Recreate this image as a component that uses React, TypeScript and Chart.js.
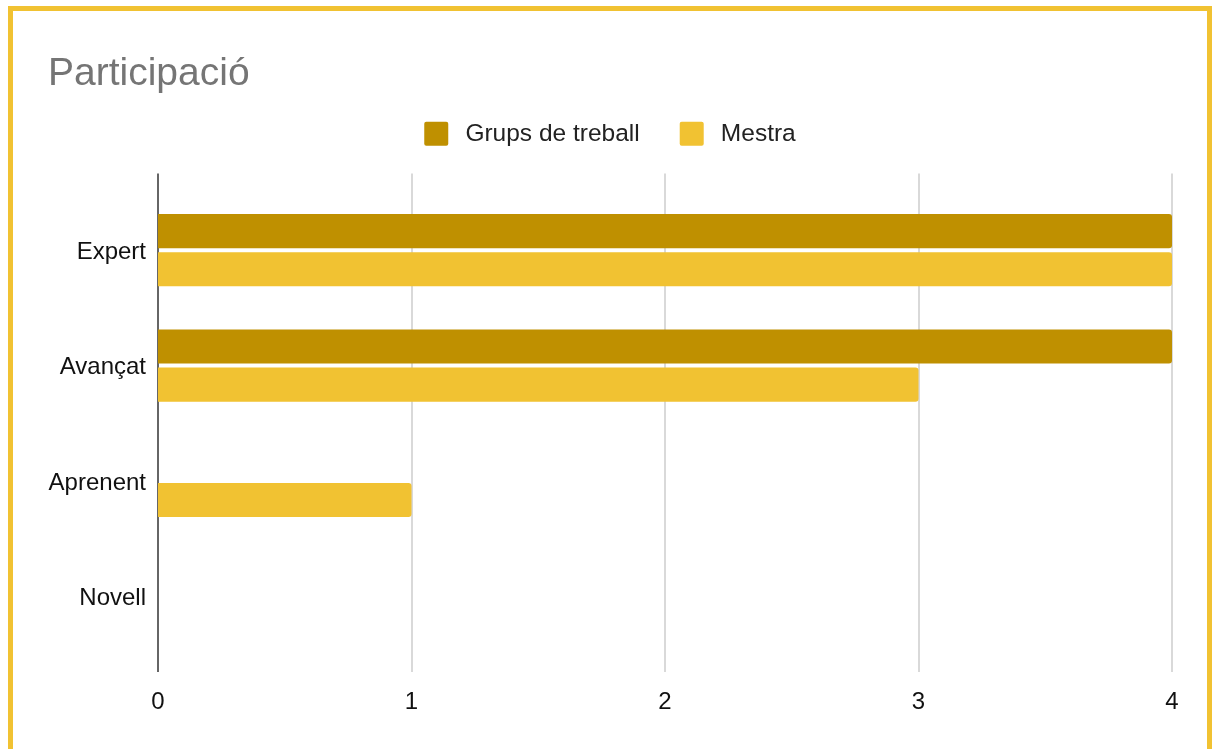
import React, { useEffect, useRef } from "react";
import { Chart, registerables } from "chart.js";
Chart.register(...registerables);

const titleText = "Participació";
const categories = ["Expert", "Avançat", "Aprenent", "Novell"];
const seriesNames = ["Grups de treball", "Mestra"];
const grupsValues = [4, 4, 0, 0];
const mestraValues = [4, 3, 1, 0];
const xTickValues = [0, 1, 2, 3, 4];
const seriesColors = ["#bf9000", "#f1c232"];

const FONT = "Arial, 'Liberation Sans', sans-serif";

const extGridPlugin = {
  id: "extGrid",
  beforeDatasetsDraw(chart: any) {
    const { ctx, chartArea, scales } = chart;
    const xs = scales.x;
    ctx.save();
    xTickValues.forEach((v) => {
      const px = Math.round(xs.getPixelForValue(v));
      ctx.beginPath();
      ctx.strokeStyle = v === 0 ? "#333333" : "#cccccc";
      ctx.lineWidth = 1.5;
      ctx.moveTo(px, chartArea.top - 19);
      ctx.lineTo(px, chartArea.bottom + 18);
      ctx.stroke();
    });
    ctx.restore();
  },
};

export default function App() {
  const ref = useRef<HTMLCanvasElement | null>(null);
  useEffect(() => {
    if (!ref.current) return;
    const defaultGen = (Chart as any).defaults.plugins.legend.labels.generateLabels;
    const chart = new Chart(ref.current, {
      type: "bar",
      data: {
        labels: categories,
        datasets: [
          {
            label: seriesNames[0],
            data: grupsValues,
            backgroundColor: seriesColors[0],
            borderRadius: 3,
            borderSkipped: "start",
            categoryPercentage: 0.66,
            barPercentage: 0.895,
          },
          {
            label: seriesNames[1],
            data: mestraValues,
            backgroundColor: seriesColors[1],
            borderRadius: 3,
            borderSkipped: "start",
            categoryPercentage: 0.66,
            barPercentage: 0.895,
          },
        ],
      },
      options: {
        indexAxis: "y",
        responsive: false,
        animation: false,
        devicePixelRatio: 1,
        layout: { padding: { left: 35, right: 35, top: 0, bottom: 0 } },
        plugins: {
          title: {
            display: true,
            text: titleText,
            align: "start",
            color: "#757575",
            font: { family: FONT, size: 39, weight: "normal", lineHeight: 1 },
            padding: { top: 44, bottom: -12.5 },
          },
          legend: {
            display: true,
            position: "top",
            align: "center",
            labels: {
              boxWidth: 24,
              boxHeight: 24,
              padding: 40,
              color: "#222222",
              useBorderRadius: true,
              borderRadius: 2,
              font: { family: FONT, size: 24.5 },
              generateLabels: (c: any) =>
                defaultGen(c).map((it: any) => ({ ...it, text: "\u2009" + it.text })),
            },
          },
          tooltip: { enabled: false },
        },
        scales: {
          x: {
            type: "linear",
            position: "bottom",
            min: 0,
            max: 4,
            ticks: {
              stepSize: 1,
              color: "#111111",
              padding: 34,
              font: { family: FONT, size: 24 },
            },
            grid: { display: false, drawTicks: false },
            border: { display: false },
            afterFit: (s: any) => {
              s.height = 95;
              s.paddingLeft = 0;
              s.paddingRight = 0;
            },
          },
          x2: {
            type: "linear",
            position: "top",
            display: true,
            grid: { display: false, drawTicks: false },
            ticks: { display: false },
            border: { display: false },
            afterFit: (s: any) => {
              s.height = 36.5;
              s.paddingLeft = 0;
              s.paddingRight = 0;
            },
          },
          y: {
            type: "category",
            ticks: {
              color: "#111111",
              padding: 12,
              labelOffset: 2,
              font: { family: FONT, size: 24 },
            },
            grid: { display: false, drawTicks: false },
            border: { display: false },
            afterFit: (s: any) => {
              s.width = 110;
              s.paddingTop = 0;
              s.paddingBottom = 0;
            },
          },
        },
      } as any,
      plugins: [extGridPlugin],
    });
    return () => chart.destroy();
  }, []);

  return (
    <div style={{ position: "fixed", inset: 0, overflow: "hidden", background: "#fff" }}>
      <div
        style={{
          position: "absolute",
          left: 8,
          top: 6,
          width: 1204,
          height: 800,
          border: "5px solid #f1c232",
          boxSizing: "border-box",
          background: "#fff",
        }}
      >
        <canvas
          ref={ref}
          width={1194}
          height={738}
          style={{ position: "absolute", left: 0, top: 0, width: 1194, height: 738 }}
        />
      </div>
    </div>
  );
}
